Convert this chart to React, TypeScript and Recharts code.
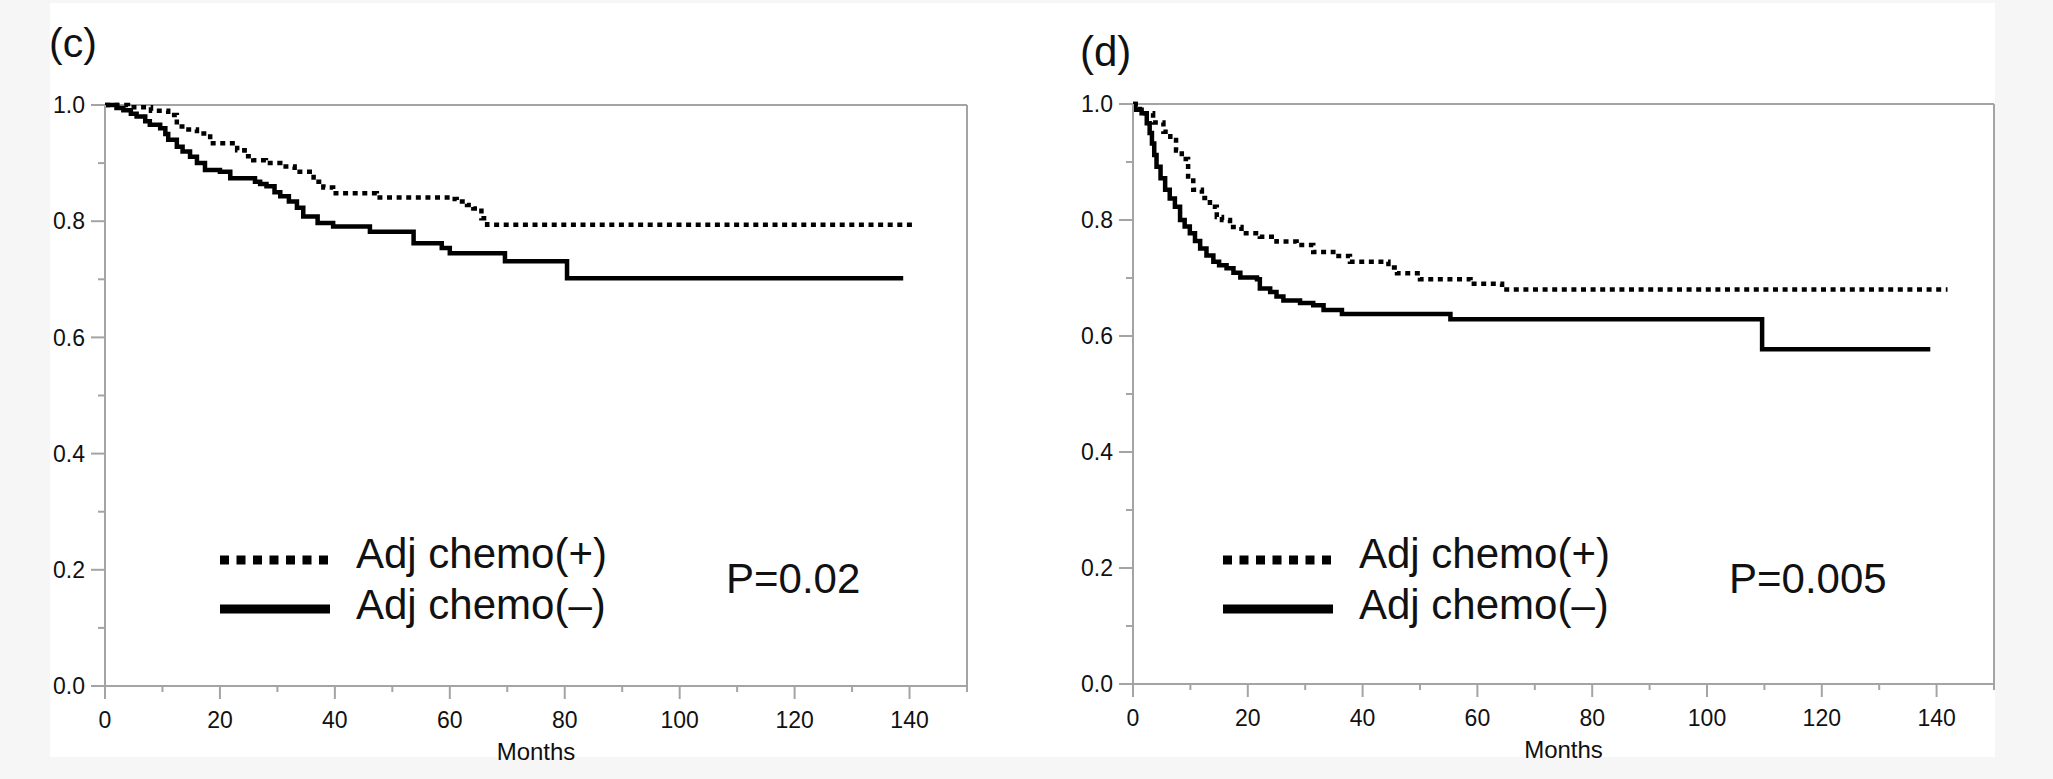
import React from 'react'
import { LineChart, Line, XAxis, YAxis, ReferenceLine } from 'recharts'

const FONT = '"Liberation Sans", Arial, Helvetica, sans-serif'
const AXIS_GRAY = '#a4a4a4'
const INK = '#111111'

// (c) Kaplan-Meier steps: month of each drop and survival right after it
const cPlusMonths = [0, 4, 8, 11, 12.5, 14, 16, 18.3, 23, 24.3, 25.8, 28, 30.5, 33, 36.3, 38, 39.7, 47.3, 60, 61.2, 63, 64.1, 65.5, 66.5, 140.7]
const cPlusSurv = [1.0, 0.996, 0.99, 0.983, 0.963, 0.958, 0.951, 0.934, 0.922, 0.912, 0.905, 0.9, 0.894, 0.885, 0.868, 0.858, 0.848, 0.841, 0.838, 0.834, 0.828, 0.822, 0.805, 0.794, 0.794]

const cMinusMonths = [0, 2, 3.2, 4.5, 5.5, 7, 7.8, 9.6, 10.5, 11, 12.5, 13.5, 14.8, 16, 17.4, 20, 21.8, 26.1, 27, 28.1, 29.5, 30.5, 32, 33.4, 34.5, 37, 39.7, 46.1, 53.7, 58.6, 60, 69.6, 80.4, 138.9]
const cMinusSurv = [1.0, 0.995, 0.991, 0.985, 0.98, 0.972, 0.966, 0.96, 0.95, 0.94, 0.928, 0.92, 0.911, 0.9, 0.888, 0.885, 0.874, 0.868, 0.864, 0.86, 0.85, 0.843, 0.834, 0.823, 0.808, 0.797, 0.791, 0.782, 0.762, 0.754, 0.745, 0.731, 0.702, 0.702]

// (d)
const dPlusMonths = [0, 1.2, 3.5, 5.3, 6.5, 7.5, 8.5, 9.6, 10.5, 12, 13.4, 14.6, 15.5, 16.9, 18.9, 22.1, 25, 28.5, 31.4, 34.9, 37.8, 44.5, 46, 50, 58.8, 64.3, 141.9]
const dPlusSurv = [1.0, 0.984, 0.968, 0.952, 0.938, 0.92, 0.905, 0.875, 0.852, 0.838, 0.823, 0.805, 0.8, 0.788, 0.777, 0.771, 0.763, 0.757, 0.745, 0.738, 0.728, 0.718, 0.708, 0.698, 0.69, 0.68, 0.68]

const dMinusMonths = [0, 0.4, 1.5, 2.4, 2.9, 3.3, 3.7, 4.1, 4.8, 5.6, 6.4, 7.3, 8.2, 9, 9.9, 10.8, 11.7, 12.8, 14, 15, 16.3, 17.5, 18.7, 21.6, 22.1, 23.9, 25, 26.2, 29.1, 31.4, 33.2, 36.4, 55.3, 109.6, 138.9]
const dMinusSurv = [1.0, 0.99, 0.984, 0.967, 0.95, 0.932, 0.912, 0.892, 0.872, 0.852, 0.837, 0.823, 0.8, 0.789, 0.777, 0.764, 0.751, 0.739, 0.728, 0.722, 0.717, 0.709, 0.701, 0.698, 0.682, 0.676, 0.668, 0.661, 0.657, 0.653, 0.645, 0.638, 0.629, 0.577, 0.577]

const monthTicks = [0, 10, 20, 30, 40, 50, 60, 70, 80, 90, 100, 110, 120, 130, 140, 150]
const survTicks = [0, 0.1, 0.2, 0.3, 0.4, 0.5, 0.6, 0.7, 0.8, 0.9, 1.0]

const seriesNames = ['Adj chemo(+)', 'Adj chemo(\u2013)']

const toSteps = (months: number[], surv: number[]) => months.map((m, i) => ({ m, s: surv[i] }))

const MonthTick = (props: any) => {
    const { x, y, payload } = props
    const major = payload.value % 20 === 0
    return (
        <g>
            <line x1={x} x2={x} y1={y} y2={y + (major ? 13 : 6)} stroke={AXIS_GRAY} strokeWidth={2} />
            {major && (
                <text x={x} y={y + 42} textAnchor="middle" fontSize={23} fill={INK} fontFamily={FONT}>
                    {payload.value}
                </text>
            )}
        </g>
    )
}

const SurvTick = (props: any) => {
    const { x, y, payload } = props
    const major = Math.round(payload.value * 10) % 2 === 0
    return (
        <g>
            <line x1={x - (major ? 14 : 7)} x2={x} y1={y} y2={y} stroke={AXIS_GRAY} strokeWidth={2} />
            {major && (
                <text x={x - 20} y={y} dy="0.36em" textAnchor="end" fontSize={23} fill={INK} fontFamily={FONT}>
                    {payload.value.toFixed(1)}
                </text>
            )}
        </g>
    )
}

interface PanelProps {
    tag: string
    tagX: number
    tagY: number
    tagSize: number
    left: number
    marginTop: number
    marginLeft: number
    marginRight: number
    marginBottom: number
    plus: { m: number; s: number }[]
    minus: { m: number; s: number }[]
    legendX: number
    pText: string
    pX: number
}

const CHART_W = 1010
const CHART_H = 779

function Panel(p: PanelProps) {
    return (
        <>
            <div style={{ position: 'absolute', left: p.left, top: 0 }}>
                <LineChart
                    width={CHART_W}
                    height={CHART_H}
                    margin={{ top: p.marginTop, right: p.marginRight, bottom: p.marginBottom, left: p.marginLeft }}
                >
                    <XAxis
                        type="number"
                        dataKey="m"
                        domain={[0, 150]}
                        ticks={monthTicks}
                        interval={0}
                        height={40}
                        tickSize={0}
                        tickMargin={0}
                        tickLine={false}
                        tick={<MonthTick />}
                        axisLine={{ stroke: AXIS_GRAY, strokeWidth: 2 }}
                        label={{ value: 'Months', position: 'bottom', offset: 17, fontSize: 24, fill: INK, fontFamily: FONT }}
                    />
                    <YAxis
                        type="number"
                        domain={[0, 1]}
                        ticks={survTicks}
                        interval={0}
                        width={55}
                        tickSize={0}
                        tickMargin={0}
                        tickLine={false}
                        tick={<SurvTick />}
                        axisLine={{ stroke: AXIS_GRAY, strokeWidth: 2 }}
                    />
                    <ReferenceLine y={1} stroke={AXIS_GRAY} strokeWidth={2} />
                    <ReferenceLine x={150} stroke={AXIS_GRAY} strokeWidth={2} />
                    <Line
                        data={p.plus}
                        dataKey="s"
                        name={seriesNames[0]}
                        type="stepAfter"
                        stroke="#000"
                        strokeWidth={4.5}
                        strokeDasharray="5 4.6"
                        dot={false}
                        isAnimationActive={false}
                    />
                    <Line
                        data={p.minus}
                        dataKey="s"
                        name={seriesNames[1]}
                        type="stepAfter"
                        stroke="#000"
                        strokeWidth={4.5}
                        dot={false}
                        isAnimationActive={false}
                    />
                </LineChart>
            </div>
            {/* panel tag, legend and p-value drawn over the chart */}
            <svg
                style={{ position: 'absolute', left: 0, top: 0, pointerEvents: 'none' }}
                width={2053}
                height={779}
                fontFamily={FONT}
            >
                <text x={p.tagX} y={p.tagY} fontSize={p.tagSize} fill={INK}>{p.tag}</text>
                <line x1={p.legendX} x2={p.legendX + 108} y1={560} y2={560} stroke="#000" strokeWidth={9} strokeDasharray="9 7.5" />
                <line x1={p.legendX} x2={p.legendX + 110} y1={609} y2={609} stroke="#000" strokeWidth={9} />
                <text x={p.legendX + 136} y={568} fontSize={42} fill={INK}>{seriesNames[0]}</text>
                <text x={p.legendX + 136} y={619} fontSize={42} fill={INK}>{seriesNames[1]}</text>
                <text x={p.pX} y={593} fontSize={42} fill={INK}>{p.pText}</text>
            </svg>
        </>
    )
}

export default function App() {
    return (
        <div style={{ position: 'absolute', left: 0, top: 0, width: 2053, height: 779, background: '#f6f6f6', fontFamily: FONT, overflow: 'hidden' }}>
            <div style={{ position: 'absolute', left: 50, top: 3, width: 1945, height: 754, background: '#ffffff' }} />
            <Panel
                tag="(c)"
                tagX={49}
                tagY={57}
                tagSize={41}
                left={0}
                marginTop={105}
                marginLeft={50}
                marginRight={CHART_W - 967}
                marginBottom={CHART_H - 686 - 40}
                plus={toSteps(cPlusMonths, cPlusSurv)}
                minus={toSteps(cMinusMonths, cMinusSurv)}
                legendX={220}
                pText="P=0.02"
                pX={726}
            />
            <Panel
                tag="(d)"
                tagX={1080}
                tagY={66}
                tagSize={42}
                left={1030}
                marginTop={104}
                marginLeft={1133 - 1030 - 55}
                marginRight={1030 + CHART_W - 1994}
                marginBottom={CHART_H - 684 - 40}
                plus={toSteps(dPlusMonths, dPlusSurv)}
                minus={toSteps(dMinusMonths, dMinusSurv)}
                legendX={1223}
                pText="P=0.005"
                pX={1729}
            />
        </div>
    )
}
